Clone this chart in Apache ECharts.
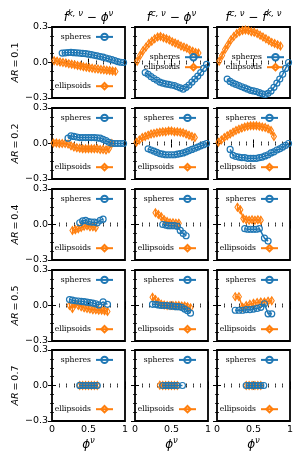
<!DOCTYPE html>
<html><head><meta charset="utf-8">
<script src="https://cdn.jsdelivr.net/npm/echarts@6/dist/echarts.min.js"></script>
<style>html,body{margin:0;padding:0;background:#fff}#c{width:302px;height:460px}</style>
</head><body><div id="c"></div><script>
// ---------- tick labels / categories ----------
const xTickLabels = ['0', '0.5', '1'];
const yTickLabels = ['\u22120.3', '0.0', '0.3'];
const ARs = ['0.1', '0.2', '0.4', '0.5', '0.7'];
const ellErr = [0.03, 0.03, 0.03, 0.03, 0.03];

// ---------- AR = 0.1 ----------
const sphPhi_AR01 = [0.14,0.18,0.22,0.26,0.30,0.34,0.38,0.42,0.46,0.50,0.54,0.58,0.62,0.66,0.70,0.74,0.78,0.82,0.86,0.90,0.94,0.98];
const ellPhi_AR01 = [0.03,0.07,0.11,0.15,0.19,0.23,0.27,0.31,0.35,0.39,0.43,0.47,0.51,0.55,0.59,0.63,0.67,0.71,0.75,0.79,0.83,0.87];
const sphKin_AR01 = [0.080,0.082,0.084,0.085,0.083,0.082,0.080,0.077,0.075,0.070,0.066,0.061,0.056,0.050,0.045,0.038,0.031,0.024,0.016,0.008,0.002,0.000];
const ellKin_AR01 = [0.015,0.010,0.005,0.000,-0.005,-0.010,-0.015,-0.020,-0.025,-0.030,-0.035,-0.040,-0.045,-0.048,-0.052,-0.055,-0.060,-0.062,-0.065,-0.068,-0.072,-0.075];
const sphCon_AR01 = [-0.085,-0.10,-0.12,-0.135,-0.15,-0.165,-0.175,-0.18,-0.185,-0.19,-0.195,-0.205,-0.215,-0.225,-0.21,-0.19,-0.165,-0.14,-0.115,-0.085,-0.05,-0.015];
const ellCon_AR01 = [0.01,0.06,0.10,0.13,0.16,0.18,0.20,0.215,0.22,0.21,0.20,0.19,0.175,0.165,0.155,0.14,0.13,0.12,0.105,0.095,0.085,0.08];
const sphDiff_AR01 = [-0.14,-0.16,-0.175,-0.185,-0.195,-0.205,-0.215,-0.225,-0.235,-0.24,-0.245,-0.255,-0.265,-0.27,-0.26,-0.24,-0.21,-0.175,-0.14,-0.10,-0.05,0.0];
const ellDiff_AR01 = [0.01,0.06,0.11,0.15,0.19,0.22,0.245,0.26,0.27,0.275,0.27,0.26,0.255,0.245,0.23,0.215,0.20,0.185,0.17,0.16,0.15,0.14];

// ---------- AR = 0.2 ----------
const sphPhiKin_AR02 = [0.22,0.26,0.30,0.34,0.38,0.42,0.46,0.50,0.54,0.58,0.62,0.66,0.70,0.74,0.78,0.82,0.86,0.90,0.94,0.98];
const sphPhi_AR02 = [0.18,0.22,0.26,0.30,0.34,0.38,0.42,0.46,0.50,0.54,0.58,0.62,0.66,0.70,0.74,0.78,0.82,0.86,0.90,0.94,0.98];
const ellPhi_AR02 = [0.02,0.06,0.10,0.14,0.18,0.22,0.26,0.30,0.34,0.38,0.42,0.46,0.50,0.54,0.58,0.62,0.66,0.70,0.74,0.78,0.82];
const ellPhiDiff_AR02 = [0.02,0.06,0.10,0.14,0.18,0.22,0.26,0.30,0.34,0.38,0.42,0.46,0.50,0.54,0.58,0.62,0.66,0.70,0.74,0.78];
const sphKin_AR02 = [0.045,0.065,0.06,0.055,0.05,0.05,0.05,0.05,0.05,0.05,0.048,0.045,0.035,0.025,0.01,0.002,0.0,0.0,0.0,0.0];
const ellKin_AR02 = [0.005,0.005,0.0,0.0,0.0,-0.005,-0.02,-0.03,-0.035,-0.04,-0.045,-0.045,-0.045,-0.045,-0.045,-0.045,-0.05,-0.05,-0.055,-0.045,0.0];
const sphCon_AR02 = [-0.045,-0.055,-0.065,-0.075,-0.085,-0.09,-0.095,-0.095,-0.095,-0.095,-0.09,-0.085,-0.08,-0.07,-0.06,-0.05,-0.04,-0.03,-0.02,-0.01,0.0];
const ellCon_AR02 = [0.01,0.03,0.05,0.06,0.07,0.08,0.085,0.09,0.095,0.10,0.10,0.105,0.105,0.10,0.10,0.095,0.09,0.08,0.07,0.06,0.05];
const sphDiff_AR02 = [-0.05,-0.10,-0.11,-0.115,-0.12,-0.12,-0.125,-0.125,-0.125,-0.125,-0.12,-0.115,-0.105,-0.095,-0.08,-0.07,-0.055,-0.045,-0.03,-0.015,0.0];
const ellDiff_AR02 = [0.01,0.03,0.05,0.065,0.08,0.095,0.11,0.12,0.13,0.14,0.145,0.15,0.15,0.15,0.145,0.14,0.135,0.125,0.11,0.06];

// ---------- AR = 0.4 ----------
const sphPhi_AR04 = [0.38,0.42,0.46,0.50,0.54,0.58,0.62,0.66,0.70];
const sphPhiDiff_AR04 = [0.38,0.42,0.46,0.50,0.54,0.58,0.65,0.70];
const ellPhi_AR04 = [0.28,0.32,0.36,0.40,0.44,0.48,0.52,0.56,0.60];
const sphKin_AR04 = [0.015,0.03,0.035,0.025,0.02,0.02,0.015,0.035,0.045];
const ellKin_AR04 = [-0.05,-0.045,-0.035,-0.025,-0.015,-0.01,-0.02,-0.02,-0.025];
const sphCon_AR04 = [0.0,-0.005,-0.01,-0.01,-0.01,-0.015,-0.05,-0.075,-0.095];
const ellCon_AR04 = [0.10,0.085,0.065,0.04,0.025,0.015,0.015,0.01,0.01];
const sphDiff_AR04 = [-0.035,-0.04,-0.04,-0.04,-0.04,-0.035,-0.115,-0.14];
const ellDiff_AR04 = [0.145,0.125,0.05,0.04,0.035,0.04,0.035,0.04,0.035];

// ---------- AR = 0.5 ----------
const sphPhiKin_AR05 = [0.24,0.28,0.32,0.36,0.40,0.44,0.48,0.52,0.56,0.60,0.64,0.70,0.76];
const phi_AR05 = [0.24,0.28,0.32,0.36,0.40,0.44,0.48,0.52,0.56,0.60,0.64,0.68,0.72,0.76];
const phiDiff_AR05 = [0.25,0.30,0.35,0.40,0.45,0.50,0.55,0.60,0.65,0.70,0.75];
const sphKin_AR05 = [0.05,0.045,0.04,0.038,0.035,0.032,0.028,0.025,0.02,0.015,0.005,0.03,0.01];
const ellKin_AR05 = [0.0,-0.025,0.015,0.0,-0.01,-0.02,-0.025,-0.03,-0.035,-0.035,-0.04,-0.04,-0.045,-0.05];
const sphCon_AR05 = [0.01,0.01,0.005,0.0,0.0,0.0,-0.005,-0.005,-0.01,-0.01,-0.015,-0.03,-0.045,-0.065];
const ellCon_AR05 = [0.07,0.05,0.03,0.01,0.005,0.0,0.0,0.0,0.0,0.0,-0.005,-0.005,-0.01,-0.02];
const sphDiff_AR05 = [-0.04,-0.04,-0.04,-0.035,-0.035,-0.03,-0.025,-0.015,0.015,-0.07,-0.07];
const ellDiff_AR05 = [0.075,0.075,-0.015,0.0,0.01,0.02,0.025,0.03,0.03,0.035,0.04];

// ---------- AR = 0.7 ----------
const sphPhiKin_AR07 = [0.38,0.42,0.46,0.50,0.54,0.58,0.62];
const ellPhiKin_AR07 = [0.38,0.42,0.46,0.50,0.54,0.58,0.62];
const sphPhiCon_AR07 = [0.38,0.42,0.46,0.50,0.54,0.58,0.65];
const ellPhiCon_AR07 = [0.34,0.38,0.42,0.46,0.50,0.54,0.58];
const sphPhiDiff_AR07 = [0.40,0.44,0.48,0.52,0.56,0.60,0.64];
const ellPhiDiff_AR07 = [0.40,0.44,0.48,0.52,0.56,0.60];
const sphKin_AR07 = [0.001,0.0,0.0,0.0,-0.001,0.0,0.0];
const ellKin_AR07 = [0.0,0.0,0.0,0.0,0.0,0.0,0.0];
const sphCon_AR07 = [0.0,0.0,0.001,0.0,0.0,0.0,0.0];
const ellCon_AR07 = [0.002,0.0,0.0,0.0,0.0,0.0,0.0];
const sphDiff_AR07 = [0.0,0.0,0.0,0.0,0.0,0.0,0.0];
const ellDiff_AR07 = [0.0,0.0,0.0,0.0,0.0,0.0];

// panels[row][col] = [sphPhi, sphVal, ellPhi, ellVal]
const panels = [
  [[sphPhi_AR01,sphKin_AR01,ellPhi_AR01,ellKin_AR01],[sphPhi_AR01,sphCon_AR01,ellPhi_AR01,ellCon_AR01],[sphPhi_AR01,sphDiff_AR01,ellPhi_AR01,ellDiff_AR01]],
  [[sphPhiKin_AR02,sphKin_AR02,ellPhi_AR02,ellKin_AR02],[sphPhi_AR02,sphCon_AR02,ellPhi_AR02,ellCon_AR02],[sphPhi_AR02,sphDiff_AR02,ellPhiDiff_AR02,ellDiff_AR02]],
  [[sphPhi_AR04,sphKin_AR04,ellPhi_AR04,ellKin_AR04],[sphPhi_AR04,sphCon_AR04,ellPhi_AR04,ellCon_AR04],[sphPhiDiff_AR04,sphDiff_AR04,ellPhi_AR04,ellDiff_AR04]],
  [[sphPhiKin_AR05,sphKin_AR05,phi_AR05,ellKin_AR05],[phi_AR05,sphCon_AR05,phi_AR05,ellCon_AR05],[phiDiff_AR05,sphDiff_AR05,phiDiff_AR05,ellDiff_AR05]],
  [[sphPhiKin_AR07,sphKin_AR07,ellPhiKin_AR07,ellKin_AR07],[sphPhiCon_AR07,sphCon_AR07,ellPhiCon_AR07,ellCon_AR07],[sphPhiDiff_AR07,sphDiff_AR07,ellPhiDiff_AR07,ellDiff_AR07]]
];

const colTitles = ['{i|f}{s|k, \u03bd}{n| \u2212 }{i|\u03d5}{s|\u03bd}', '{i|f}{s|c, \u03bd}{n| \u2212 }{i|\u03d5}{s|\u03bd}', '{i|f}{s|c, \u03bd}{n| \u2212 }{i|f}{s|k, \u03bd}'];

// ---------- layout ----------
const colLeft = [52, 135, 217], colW = 73;
const rowTop = [27, 108, 189, 270, 350], rowH = 71;
const BLUE = '#1f77b4', ORANGE = '#ff7f0e';
const mathRich = {
  i: {fontFamily: 'DejaVu Sans', fontStyle: 'italic', fontSize: 12, lineHeight: 18, color: '#000'},
  n: {fontFamily: 'DejaVu Sans', fontSize: 12, lineHeight: 18, color: '#000'},
  s: {fontFamily: 'DejaVu Sans', fontStyle: 'italic', fontSize: 8.5, lineHeight: 9, verticalAlign: 'top', color: '#000'}
};
const rowRich = {
  i: {fontFamily: 'DejaVu Sans', fontStyle: 'italic', fontSize: 9.5, color: '#000'},
  n: {fontFamily: 'DejaVu Sans', fontSize: 9.5, color: '#000'}
};
const tickBase = {show: true, inside: true, length: 4, lineStyle: {color: '#000', width: 1}};
const minorBase = {show: true, length: 2, lineStyle: {color: '#000', width: 0.8}};
const labelFont = {color: '#000', fontSize: 9.5, fontFamily: 'DejaVu Sans'};

const grid = [], xAxis = [], yAxis = [], series = [], legend = [];
const legendText = {fontFamily: 'DejaVu Serif', fontSize: 7.6, color: '#000'};

for (let r = 0; r < 5; r++) {
  for (let c = 0; c < 3; c++) {
    const g = grid.length;
    grid.push({left: colLeft[c], top: rowTop[r], width: colW, height: rowH, show: true,
      borderColor: '#000', borderWidth: 1.8, backgroundColor: 'transparent', outerBoundsMode: 'none'});
    const xb = {gridIndex: g, type: 'value', min: 0, max: 1, interval: 0.5,
      axisLine: {show: false}, axisTick: tickBase, minorTick: Object.assign({splitNumber: 5}, minorBase),
      splitLine: {show: false}, minorSplitLine: {show: false}};
    xAxis.push(Object.assign({}, xb, {position: 'bottom',
      axisLabel: Object.assign({show: r === 4, margin: 4, formatter: v => xTickLabels[Math.round(v * 2)]}, labelFont),
      name: r === 4 ? '{i|\u03d5}{s|\u03bd}' : '', nameLocation: 'middle', nameGap: 15,
      nameTextStyle: {rich: mathRich}}));
    xAxis.push(Object.assign({}, xb, {position: 'top', axisLabel: {show: false},
      name: r === 0 ? colTitles[c] : '', nameLocation: 'middle', nameGap: 0,
      nameTextStyle: {rich: mathRich}}));
    const yb = {gridIndex: g, type: 'value', min: -0.3, max: 0.3, interval: 0.3,
      axisLine: {show: false}, axisTick: tickBase, minorTick: Object.assign({splitNumber: 4}, minorBase),
      splitLine: {show: false}, minorSplitLine: {show: false}};
    yAxis.push(Object.assign({}, yb, {position: 'left',
      axisLabel: Object.assign({show: c === 0, margin: 4, formatter: v => yTickLabels[Math.round(v / 0.3) + 1]}, labelFont),
      name: c === 0 ? '{i|AR}{n|\u2009=\u2009' + ARs[r] + '}' : '', nameLocation: 'middle', nameRotate: 90, nameGap: 31,
      nameTextStyle: {rich: rowRich}}));
    yAxis.push(Object.assign({}, yb, {position: 'right', axisLabel: {show: false}}));

    const [sPhi, sVal, ePhi, eVal] = panels[r][c];
    const xi = 2 * g, yi = 2 * g;
    series.push({type: 'custom', name: 'ellipsoid error', xAxisIndex: xi, yAxisIndex: yi,
      coordinateSystem: 'cartesian2d', silent: true, z: 2,
      data: ePhi.map((p, i) => [p, eVal[i], ellErr[r]]), encode: {x: 0, y: 1},
      renderItem: (params, api) => {
        const x = api.value(0), y = api.value(1), e = api.value(2);
        const p1 = api.coord([x, y - e]), p2 = api.coord([x, y + e]);
        return {type: 'line', shape: {x1: p1[0], y1: p1[1], x2: p2[0], y2: p2[1]},
          style: {stroke: ORANGE, lineWidth: 1.2}};
      }});
    series.push({type: 'line', name: 'ellipsoids', xAxisIndex: xi, yAxisIndex: yi, z: 3,
      data: ePhi.map((p, i) => [p, eVal[i]]), symbol: 'diamond', symbolSize: [5, 8], showAllSymbol: true,
      lineStyle: {color: ORANGE, width: 1.5},
      itemStyle: {color: 'rgba(255,255,255,0)', borderColor: ORANGE, borderWidth: 1.1}});
    series.push({type: 'line', name: 'spheres', xAxisIndex: xi, yAxisIndex: yi, z: 4,
      data: sPhi.map((p, i) => [p, sVal[i]]), symbol: 'circle', symbolSize: 6, showAllSymbol: true,
      lineStyle: {color: BLUE, width: 1.5},
      itemStyle: {color: 'rgba(255,255,255,0)', borderColor: BLUE, borderWidth: 1.2}});

    const mid = (r === 0 && c > 0);
    const rightEdge = colLeft[c] + colW - (mid ? 5 : 11);
    const sphCy = mid ? 58 : rowTop[r] + 10.7;
    const ellCy = mid ? 68 : rowTop[r] + rowH - 11;
    const lb = {orient: 'horizontal', align: 'right', itemWidth: 17, itemHeight: 8, itemGap: 0, padding: 0,
      selectedMode: false, textStyle: legendText, right: 302 - rightEdge};
    legend.push(Object.assign({}, lb, {data: ['spheres'], top: sphCy - 5}));
    legend.push(Object.assign({}, lb, {data: ['ellipsoids'], top: ellCy - 5}));
  }
}

const chart = echarts.init(document.getElementById('c'), null, {renderer: 'canvas'});
chart.setOption({animation: false, backgroundColor: '#fff', grid, xAxis, yAxis, series, legend});
</script></body></html>
